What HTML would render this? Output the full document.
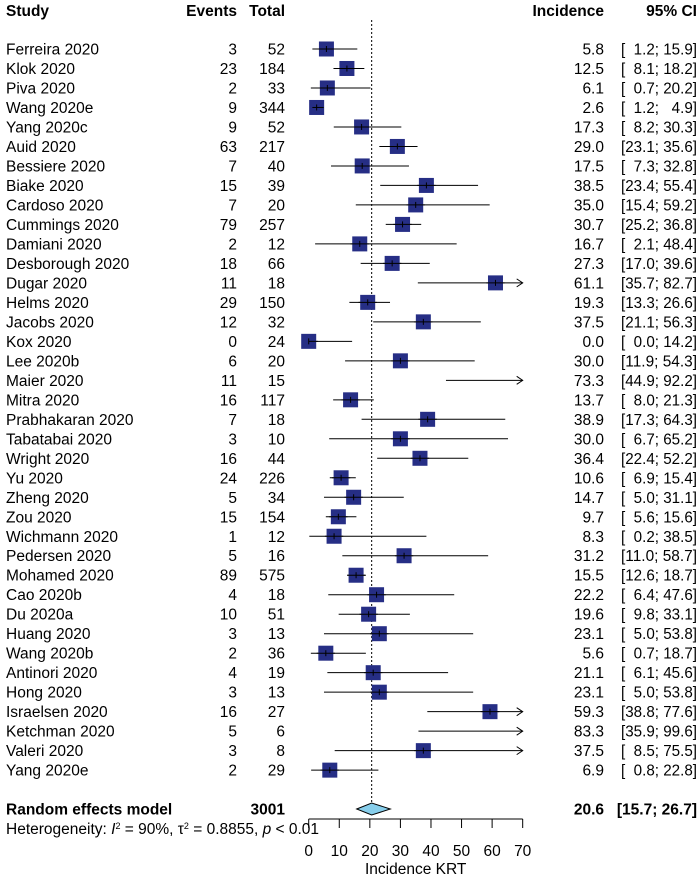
<!DOCTYPE html>
<html><head><meta charset="utf-8"><style>
body{margin:0;background:#fff;}
svg text{font-family:"Liberation Sans",Arial,sans-serif;font-size:15.5px;fill:#000;}
</style></head><body>
<svg id="plot" width="700" height="877" xmlns="http://www.w3.org/2000/svg"></svg>
<script>
const studies=["Ferreira 2020","Klok 2020","Piva 2020","Wang 2020e","Yang 2020c","Auid 2020","Bessiere 2020","Biake 2020","Cardoso 2020","Cummings 2020","Damiani 2020","Desborough 2020","Dugar 2020","Helms 2020","Jacobs 2020","Kox 2020","Lee 2020b","Maier 2020","Mitra 2020","Prabhakaran 2020","Tabatabai 2020","Wright 2020","Yu 2020","Zheng 2020","Zou 2020","Wichmann 2020","Pedersen 2020","Mohamed 2020","Cao 2020b","Du 2020a","Huang 2020","Wang 2020b","Antinori 2020","Hong 2020","Israelsen 2020","Ketchman 2020","Valeri 2020","Yang 2020e"];
const events=[3,23,2,9,9,63,7,15,7,79,2,18,11,29,12,0,6,11,16,7,3,16,24,5,15,1,5,89,4,10,3,2,4,3,16,5,3,2];
const totals=[52,184,33,344,52,217,40,39,20,257,12,66,18,150,32,24,20,15,117,18,10,44,226,34,154,12,16,575,18,51,13,36,19,13,27,6,8,29];
const est=[5.8,12.5,6.1,2.6,17.3,29.0,17.5,38.5,35.0,30.7,16.7,27.3,61.1,19.3,37.5,0.0,30.0,73.3,13.7,38.9,30.0,36.4,10.6,14.7,9.7,8.3,31.2,15.5,22.2,19.6,23.1,5.6,21.1,23.1,59.3,83.3,37.5,6.9];
const lower=[1.2,8.1,0.7,1.2,8.2,23.1,7.3,23.4,15.4,25.2,2.1,17.0,35.7,13.3,21.1,0.0,11.9,44.9,8.0,17.3,6.7,22.4,6.9,5.0,5.6,0.2,11.0,12.6,6.4,9.8,5.0,0.7,6.1,5.0,38.8,35.9,8.5,0.8];
const upper=[15.9,18.2,20.2,4.9,30.3,35.6,32.8,55.4,59.2,36.8,48.4,39.6,82.7,26.6,56.3,14.2,54.3,92.2,21.3,64.3,65.2,52.2,15.4,31.1,15.6,38.5,58.7,18.7,47.6,33.1,53.8,18.7,45.6,53.8,77.6,99.6,75.5,22.8];
const pooled=[20.6,15.7,26.7];
const ticks=[0,10,20,30,40,50,60,70];
const totalN=3001;

const svg=document.getElementById('plot');
const NS='http://www.w3.org/2000/svg';
const x=v=>308.7+v*3.057;
const y=i=>49+i*19.49;
function mk(tag,attrs,txt){const e=document.createElementNS(NS,tag);for(const k in attrs)e.setAttribute(k,attrs[k]);if(txt!==undefined)e.textContent=txt;svg.appendChild(e);return e;}
function fmt(v){let s=v.toFixed(1);return s.length<4?'\u2007'+s:s;}

let h;
h=mk('text',{x:6,y:16,'font-weight':'bold'},'Study');
h=mk('text',{x:237,y:16,'font-weight':'bold','text-anchor':'end'},'Events');
h=mk('text',{x:285,y:16,'font-weight':'bold','text-anchor':'end'},'Total');
h=mk('text',{x:604,y:16,'font-weight':'bold','text-anchor':'end'},'Incidence');
h=mk('text',{x:697,y:16,'font-weight':'bold','text-anchor':'end'},'95% CI');

h=mk('line',{x1:x(pooled[0]),x2:x(pooled[0]),y1:20,y2:809,stroke:'#000','stroke-dasharray':'2,2','stroke-width':1});


for(let i=0;i<studies.length;i++){
  const yy=y(i);
  h=mk('text',{x:6,y:yy+5.5},studies[i]);
  h=mk('text',{x:237,y:yy+5.5,'text-anchor':'end'},events[i]);
  h=mk('text',{x:285,y:yy+5.5,'text-anchor':'end'},totals[i]);
  h=mk('text',{x:604,y:yy+5.5,'text-anchor':'end'},est[i].toFixed(1));
  h=mk('text',{x:621,y:yy+5.5,textLength:76,lengthAdjust:'spacingAndGlyphs','xml:space':'preserve'},'['+fmt(lower[i])+'; '+fmt(upper[i])+']');
  const lo=Math.max(0,lower[i]),hi=Math.min(70,upper[i]);
  h=mk('line',{x1:x(lo),x2:x(hi),y1:yy,y2:yy,stroke:'#000','stroke-width':1});
  if(upper[i]>70){
    h=mk('path',{d:`M${x(70)-6},${yy-4}L${x(70)},${yy}L${x(70)-6},${yy+4}`,fill:'none',stroke:'#000','stroke-width':1});
  }
  if(est[i]<=70){
    const s=15;
    h=mk('rect',{x:x(est[i])-s/2,y:yy-s/2,width:s,height:s,fill:'#262e85'});
    h=mk('line',{x1:x(Math.max(lo,est[i]-3)),x2:x(Math.min(hi,est[i]+3)),y1:yy,y2:yy,stroke:'#000','stroke-width':1});
    h=mk('line',{x1:x(est[i]),x2:x(est[i]),y1:yy-3,y2:yy+3,stroke:'#000','stroke-width':1});
  }
}
const py=809;
h=mk('text',{x:6,y:py+5.5,'font-weight':'bold'},'Random effects model');
h=mk('text',{x:285,y:py+5.5,'font-weight':'bold','text-anchor':'end'},totalN);
h=mk('text',{x:604,y:py+5.5,'font-weight':'bold','text-anchor':'end'},pooled[0].toFixed(1));
h=mk('text',{x:697,y:py+5.5,'font-weight':'bold','text-anchor':'end'},'['+pooled[1].toFixed(1)+'; '+pooled[2].toFixed(1)+']');
h=mk('polygon',{points:`${x(pooled[1])},${py} ${x(pooled[0])},${py-6} ${x(pooled[2])},${py} ${x(pooled[0])},${py+6}`,fill:'#87ceeb',stroke:'#000','stroke-width':1});
h=mk('text',{x:6,y:834,'font-size':'13'});
h.innerHTML='Heterogeneity: <tspan font-style="italic">I</tspan><tspan dy="-5" font-size="9">2</tspan><tspan dy="5"> = 90%, \u03c4</tspan><tspan dy="-5" font-size="9">2</tspan><tspan dy="5"> = 0.8855, </tspan><tspan font-style="italic">p</tspan> &lt; 0.01';
h=mk('line',{x1:x(ticks[0]),x2:x(ticks[ticks.length-1]),y1:819,y2:819,stroke:'#000'});
for(const t of ticks){
  h=mk('line',{x1:x(t),x2:x(t),y1:819,y2:828,stroke:'#000'});
  h=mk('text',{x:x(t),y:856,'text-anchor':'middle'},t);
}
h=mk('text',{x:x(35),y:874,'text-anchor':'middle'},'Incidence KRT');
</script>
</body></html>
